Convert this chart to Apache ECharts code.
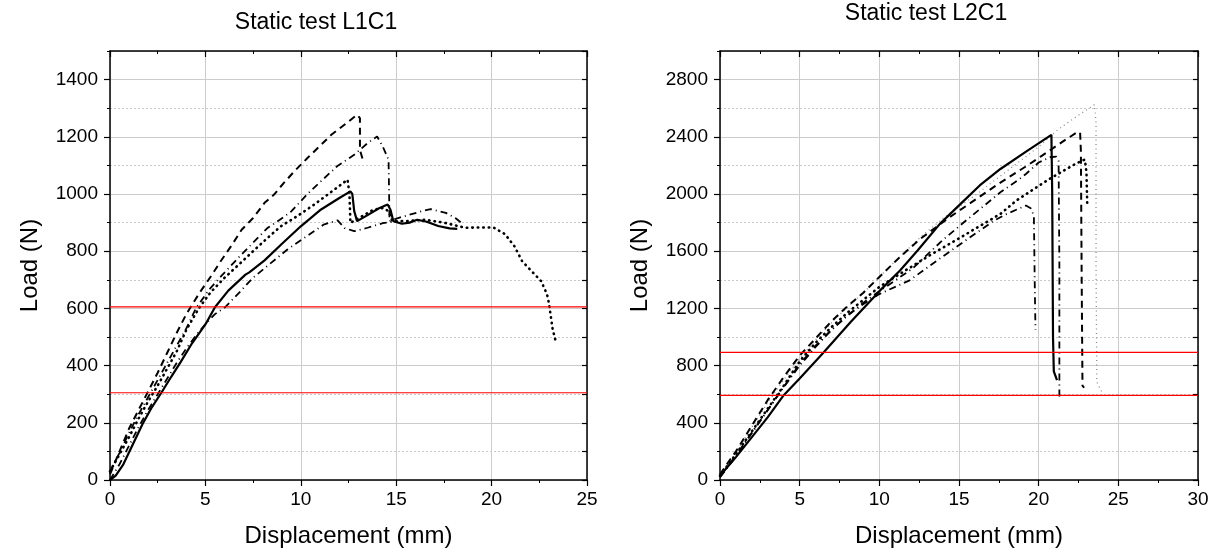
<!DOCTYPE html>
<html><head><meta charset="utf-8">
<script src="https://cdn.jsdelivr.net/npm/echarts@6/dist/echarts.min.js"></script>
<style>html,body{margin:0;padding:0;background:#fff}#c{width:1212px;height:554px}</style>
</head><body><div id="c"></div>
<script>
const titles = ['Static test L1C1', 'Static test L2C1'];
const xName = 'Displacement (mm)';
const yName = 'Load (N)';

// Left panel (L1C1): [displacement mm, load N]
const L1_solid = [[0,0],[0.3,15],[0.7,55],[1.2,125],[1.7,195],[2.2,255],[2.7,306],[3.2,360],[3.7,412],[4.3,478],[5.0,544],[5.5,604],[6.2,662],[7.1,718],[7.3,726],[8.1,768],[9.0,825],[10.0,887],[11.0,943],[12.0,985],[12.6,1009],[12.7,1000],[12.8,940],[12.95,905],[13.5,926],[14.1,950],[14.55,963],[14.7,945],[14.85,905],[15.3,896],[15.7,900],[16.1,910],[16.6,903],[17.2,888],[17.8,880],[18.2,878]];
const L1_dash = [[0,20],[0.5,100],[1.0,180],[1.5,245],[2.0,310],[2.5,375],[3.0,445],[3.5,515],[4.0,580],[4.7,655],[5.35,718],[5.8,765],[6.4,823],[6.9,875],[7.5,916],[8.1,969],[8.6,998],[9.1,1038],[9.7,1082],[10.35,1126],[11.0,1168],[11.6,1207],[12.4,1248],[12.95,1277],[13.1,1265],[13.1,1154],[13.3,1108]];
const L1_dashdotA = [[0,30],[0.5,95],[1,165],[1.5,230],[2,290],[2.5,350],[3,410],[3.5,470],[4,530],[4.5,600],[5.2,666],[5.9,718],[6.8,782],[7.5,830],[8.25,881],[8.9,910],[9.5,939],[10.35,1000],[11.05,1044],[11.9,1097],[12.8,1137],[13.5,1178],[14.0,1201],[14.3,1165],[14.6,1120],[14.65,905],[15.1,916],[16.3,939],[16.8,947],[17.6,934],[18.1,916],[18.5,895]];
const L1_dot = [[0,30],[0.5,90],[1,150],[1.5,215],[2,275],[2.5,330],[3,390],[3.5,450],[4,525],[4.65,600],[5.26,655],[6.0,707],[6.75,753],[7.5,800],[8.25,846],[8.95,887],[9.8,922],[10.7,963],[11.75,1015],[12.45,1050],[12.55,1000],[12.6,899],[13.05,916],[13.8,945],[14.3,951],[14.6,940],[14.8,905],[15.5,905],[16.5,910],[17.5,900],[18.6,882],[19.3,883],[20.1,883],[20.7,860],[21.2,817],[21.6,765],[22.1,730],[22.6,695],[22.9,650],[23.0,620],[23.2,527],[23.4,475]];
const L1_dashdotB = [[0,0],[0.5,55],[1,120],[1.5,185],[2,245],[2.5,300],[3,355],[3.5,410],[4,460],[4.5,505],[5,545],[5.5,580],[6.05,605],[6.84,660],[7.46,705],[8.33,753],[9.3,806],[10.17,846],[11.2,893],[11.93,908],[12.3,881],[12.8,870],[13.5,882],[14.3,898],[15.0,905]];
const L1_refs = [605, 305];

// Right panel (L2C1)
const L2_solid = [[0,30],[1,160],[2,300],[3,440],[4,593],[5,710],[6.5,891],[8.2,1105],[10.05,1326],[11.3,1465],[12.4,1605],[13.8,1791],[15.1,1931],[16.3,2060],[17.6,2175],[19.3,2303],[20.8,2414],[20.85,2000],[20.9,1000],[20.95,760],[21.15,698]];
const L2_dash = [[0,40],[1,200],[2,380],[3,560],[4,720],[5,870],[6,990],[7,1110],[8,1215],[9,1310],[10,1420],[11.3,1560],[12.5,1680],[14.4,1837],[16.1,1966],[17.6,2080],[19.3,2200],[20.1,2260],[21.6,2373],[22.4,2431],[22.6,2431],[22.65,2300],[22.7,1400],[22.75,660],[22.85,645]];
const L2_dashdotA = [[0,20],[1,170],[2,330],[3,490],[4,650],[5,810],[6,940],[7,1050],[8,1150],[9,1230],[10,1300],[11.9,1396],[13.5,1525],[15.1,1651],[17.2,1814],[18.0,1861],[19.2,1919],[19.5,1900],[19.7,1849],[19.75,1400],[19.8,1050]];
const L2_dot = [[0,30],[1,180],[2,340],[3,500],[4,660],[5,830],[6,960],[7,1070],[8,1170],[9,1260],[10,1350],[11.3,1442],[13,1560],[15,1690],[17.6,1861],[18.6,1954],[19.7,2035],[20.5,2093],[21.4,2152],[22.1,2198],[22.7,2233],[22.9,2240],[23.0,2150],[23.05,1919]];
const L2_dashdotB = [[0,20],[1,165],[2,330],[3,490],[4,650],[5,800],[6,930],[7,1050],[8,1150],[9,1240],[10,1320],[12.1,1480],[14,1680],[15.5,1820],[17.6,2012],[18.8,2105],[19.2,2140],[20.0,2220],[20.7,2257],[21.1,2262],[21.25,2230],[21.3,1500],[21.3,560]];
const L2_grayDot = [[0,30],[1,190],[2,370],[3,540],[4,700],[5,850],[6,980],[7,1100],[8,1210],[9,1310],[10,1420],[11,1530],[12.6,1700],[14,1830],[16,1990],[18,2160],[20,2330],[21.25,2454],[22.6,2559],[23.1,2594],[23.5,2625],[23.6,2500],[23.6,1500],[23.65,686],[23.9,628],[24.0,610]];
const L2_refs = [893, 592];

const xMax = [25, 30];
const yMax = [1500, 3000];
const yMajor = [200, 400];
const yMinor = [100, 200];

const FONT = 'Liberation Sans, Arial, sans-serif';
const chart = echarts.init(document.getElementById('c'), null, {renderer: 'canvas'});

const grids = [
  {left: 110, top: 51, width: 477, height: 429},
  {left: 720, top: 51, width: 478, height: 429}
];

const xAxes = [], yAxes = [];
for (let g = 0; g < 2; g++) {
  xAxes.push({
    gridIndex: g, type: 'value', position: 'bottom', min: 0, max: xMax[g], interval: 5,
    name: xName, nameLocation: 'middle', nameGap: 44,
    nameTextStyle: {fontFamily: FONT, fontSize: 24, color: '#000'},
    axisLine: {show: true, onZero: false, lineStyle: {color: '#000', width: 1.5}},
    axisTick: {show: true, inside: false, length: 6, lineStyle: {color: '#000', width: 1.2}},
    minorTick: {show: true, splitNumber: 2, length: 3, lineStyle: {color: '#000', width: 1}},
    axisLabel: {fontFamily: FONT, fontSize: 19, color: '#000', margin: 10},
    splitLine: {show: true, lineStyle: {color: '#cccccc', width: 1}},
    minorSplitLine: {show: false}
  });
  xAxes.push({
    gridIndex: g, type: 'value', position: 'top', min: 0, max: xMax[g], interval: 5,
    axisLine: {show: true, onZero: false, lineStyle: {color: '#000', width: 1.5}},
    axisTick: {show: true, inside: true, length: 6, lineStyle: {color: '#000', width: 1.2}},
    minorTick: {show: true, splitNumber: 2, length: 3, lineStyle: {color: '#000', width: 1}},
    axisLabel: {show: false}, splitLine: {show: false}
  });
  yAxes.push({
    gridIndex: g, type: 'value', position: 'left', min: 0, max: yMax[g], interval: yMinor[g],
    axisLine: {show: false}, axisLabel: {show: false},
    axisTick: {show: true, inside: false, length: 3, lineStyle: {color: '#000', width: 1}},
    splitLine: {show: true, lineStyle: {color: '#c8c8c8', width: 1, type: [2, 2]}}
  });
  yAxes.push({
    gridIndex: g, type: 'value', position: 'left', min: 0, max: yMax[g], interval: yMajor[g],
    name: yName, nameLocation: 'middle', nameGap: 68, nameRotate: 90,
    nameTextStyle: {fontFamily: FONT, fontSize: 24, color: '#000'},
    axisLine: {show: true, onZero: false, lineStyle: {color: '#000', width: 1.5}},
    axisTick: {show: true, inside: false, length: 6, lineStyle: {color: '#000', width: 1.2}},
    axisLabel: {fontFamily: FONT, fontSize: 19, color: '#000', margin: 12, showMaxLabel: false,
      formatter: v => (v % yMajor[g] === 0 ? String(v) : '')},
    splitLine: {show: true, lineStyle: {color: '#cccccc', width: 1}}
  });
  yAxes.push({
    gridIndex: g, type: 'value', position: 'right', min: 0, max: yMax[g], interval: yMinor[g],
    axisLine: {show: true, onZero: false, lineStyle: {color: '#000', width: 1.5}},
    axisTick: {show: true, inside: true, length: 5, lineStyle: {color: '#000', width: 1.2}},
    axisLabel: {show: false}, splitLine: {show: false}
  });
}

const styles = {
  solid: {color: '#000', width: 2.2, type: 'solid'},
  dash: {color: '#000', width: 2, type: [7, 5]},
  dashdot: {color: '#000', width: 1.8, type: [7, 4, 1, 4]},
  dot: {color: '#000', width: 2.6, type: [0.5, 5], cap: 'round'},
  gray: {color: '#8a8a8a', width: 1.3, type: [1, 3.5]},
  ref: {color: '#ff0000', width: 1.2, type: 'solid'}
};

function mk(name, data, st, g, z) {
  return {
    name, type: 'line', data, xAxisIndex: g * 2, yAxisIndex: g * 3 + 1,
    showSymbol: false, symbol: 'none', smooth: false, clip: true, silent: true,
    lineStyle: Object.assign({}, st), z: z || 3
  };
}
function refLine(v, g) {
  return mk('ref ' + v, [[0, v], [xMax[g], v]], styles.ref, g, 4);
}

const series = [
  mk('L1 dash-dot B', L1_dashdotB, styles.dashdot, 0),
  mk('L1 dot', L1_dot, styles.dot, 0),
  mk('L1 dash-dot A', L1_dashdotA, styles.dashdot, 0),
  mk('L1 dash', L1_dash, styles.dash, 0),
  mk('L1 solid', L1_solid, styles.solid, 0),
  mk('L2 gray', L2_grayDot, styles.gray, 1),
  mk('L2 dash-dot B', L2_dashdotB, styles.dashdot, 1),
  mk('L2 dash-dot A', L2_dashdotA, styles.dashdot, 1),
  mk('L2 dot', L2_dot, styles.dot, 1),
  mk('L2 dash', L2_dash, styles.dash, 1),
  mk('L2 solid', L2_solid, styles.solid, 1)
].concat(L1_refs.map(v => refLine(v, 0)), L2_refs.map(v => refLine(v, 1)));

chart.setOption({
  animation: false,
  backgroundColor: '#fff',
  grid: grids,
  xAxis: xAxes,
  yAxis: yAxes,
  graphic: [
    {type: 'text', x: 316, y: 11, style: {text: titles[0], font: '23px ' + FONT, fill: '#000', textAlign: 'center'}},
    {type: 'text', x: 926, y: 2, style: {text: titles[1], font: '23px ' + FONT, fill: '#000', textAlign: 'center'}}
  ],
  series
});
</script></body></html>
